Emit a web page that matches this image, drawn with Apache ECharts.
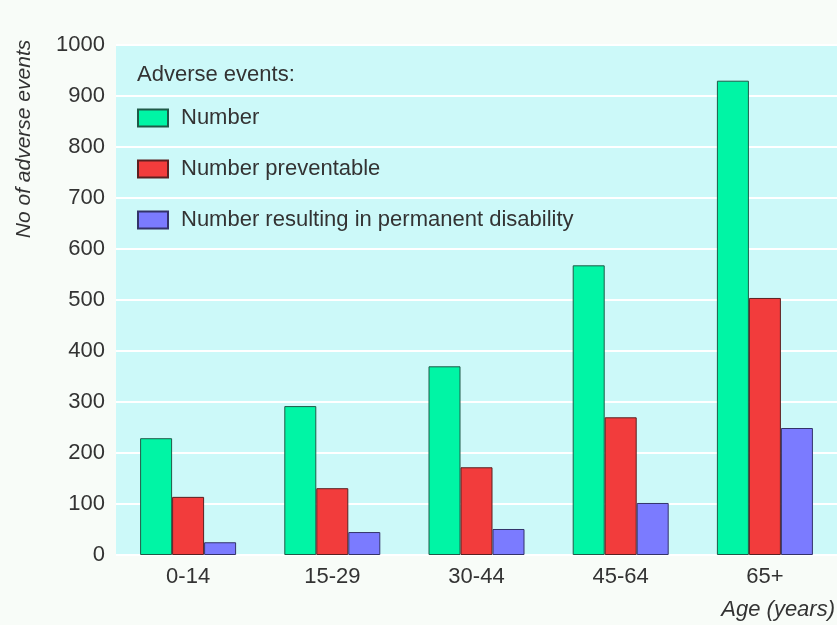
<!DOCTYPE html>
<html>
<head>
<meta charset="utf-8">
<script src="https://cdn.jsdelivr.net/npm/echarts@6/dist/echarts.min.js"></script>
<style>
  html, body { margin: 0; padding: 0; background: #f8fcf8; }
  #chart { width: 837px; height: 625px; }
</style>
</head>
<body>
<div id="chart"></div>
<script type="text/javascript">
var ageGroups = ['0-14', '15-29', '30-44', '45-64', '65+'];
var numberAll = [229, 292, 370, 568, 930];
var numberPreventable = [114, 131, 172, 270, 504];
var numberDisability = [25, 45, 51, 102, 249];
var yTicks = [0, 100, 200, 300, 400, 500, 600, 700, 800, 900, 1000];

var font = "'Liberation Sans', Arial, sans-serif";

var chart = echarts.init(document.getElementById('chart'));

var option = {
    backgroundColor: '#f8fcf8',
    animation: false,
    title: {
        text: 'Adverse events:',
        left: 132,
        top: 59,
        textStyle: { fontFamily: font, fontSize: 22, fontWeight: 'normal', color: '#333' }
    },
    legend: {
        orient: 'vertical',
        left: 132,
        top: 102,
        icon: 'rect',
        itemWidth: 30,
        itemHeight: 17,
        itemGap: 29,
        textStyle: { fontFamily: font, fontSize: 22, color: '#333', padding: [0, 0, 0, 8] },
        data: ['Number', 'Number preventable', 'Number resulting in permanent disability']
    },
    grid: {
        left: 116,
        right: 0,
        top: 45,
        bottom: 70,
        show: true,
        backgroundColor: '#ccf9f9',
        borderWidth: 0
    },
    xAxis: {
        type: 'category',
        data: ageGroups,
        axisLine: { show: false },
        axisTick: { show: false },
        axisLabel: { fontFamily: font, fontSize: 22, color: '#333', margin: 11 }
    },
    yAxis: {
        type: 'value',
        min: yTicks[0],
        max: yTicks[yTicks.length - 1],
        interval: 100,
        axisLine: { show: false },
        axisTick: { show: false },
        axisLabel: {
            fontFamily: font, fontSize: 22, color: '#333', margin: 11,
            formatter: function (v) { return String(v); }
        },
        splitLine: { lineStyle: { color: '#ffffff', width: 2 } }
    },
    graphic: [
        {
            type: 'text',
            x: 24,
            y: 139,
            rotation: Math.PI / 2,
            style: {
                text: 'No of adverse events',
                fontFamily: font,
                fontSize: 21,
                fontStyle: 'italic',
                fill: '#333',
                align: 'center',
                verticalAlign: 'middle'
            }
        },
        {
            type: 'text',
            right: 2,
            top: 599,
            style: {
                text: 'Age (years)',
                fontFamily: font,
                fontSize: 22,
                fontStyle: 'italic',
                fill: '#333'
            }
        }
    ],
    series: [
        {
            name: 'Number',
            type: 'bar',
            barWidth: 32,
            barGap: '0%',
            data: numberAll,
            itemStyle: { color: '#00f5a5', borderColor: '#1f5a48', borderWidth: 1 }
        },
        {
            name: 'Number preventable',
            type: 'bar',
            barWidth: 32,
            barGap: '0%',
            data: numberPreventable,
            itemStyle: { color: '#f23c3c', borderColor: '#5a2020', borderWidth: 1 }
        },
        {
            name: 'Number resulting in permanent disability',
            type: 'bar',
            barWidth: 32,
            barGap: '0%',
            data: numberDisability,
            itemStyle: { color: '#7b7bff', borderColor: '#33336a', borderWidth: 1 }
        }
    ]
};

chart.setOption(option);
</script>
</body>
</html>
